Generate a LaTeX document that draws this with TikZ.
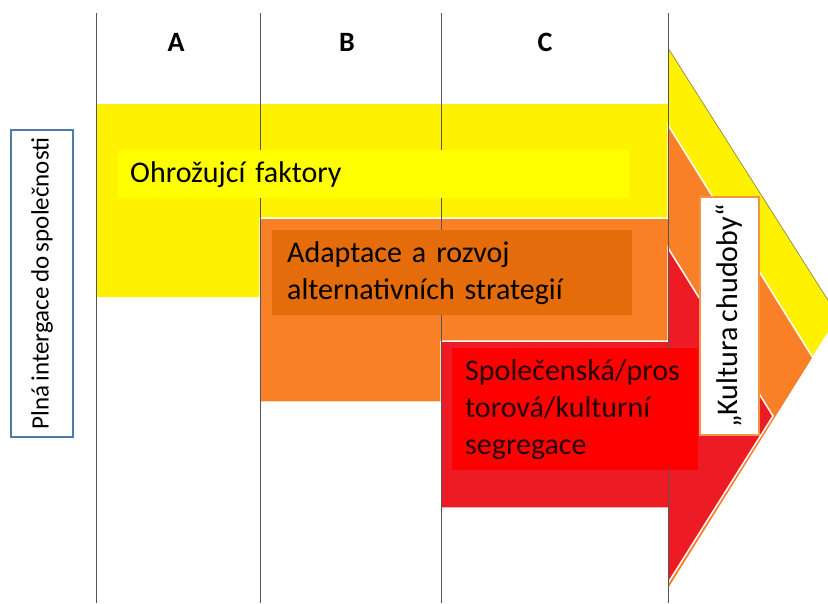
\documentclass[tikz,border=0pt]{standalone}
\usepackage{fontspec}
\setmainfont{Carlito}[WordSpace=0.8]
\definecolor{yellowarrow}{RGB}{255,242,0}
\definecolor{yellowbox}{RGB}{255,255,0}
\definecolor{orangearrow}{RGB}{250,128,40}
\definecolor{orangebox}{RGB}{228,108,10}
\definecolor{orangeframe}{RGB}{240,150,70}
\definecolor{redarrow}{RGB}{237,28,36}
\definecolor{redbox}{RGB}{255,0,0}
\definecolor{frameblue}{RGB}{80,122,170}
\definecolor{gridline}{RGB}{85,85,85}
\begin{document}
\begin{tikzpicture}[x=1pt,y=-1pt,
  band/.style={draw=white, line width=1.5pt, line join=miter},
  divider/.style={draw=gridline, line width=1pt},
  colhead/.style={font=\fontsize{28}{32}\selectfont\bfseries},
  textbox/.style={inner ysep=0pt, align=left, font=\fontsize{30}{37}\selectfont},
  sidebox/.style={rotate=90, inner sep=0pt, fill=white}]
\useasboundingbox (0,0) rectangle (828,603);

% arrows
\fill[yellowarrow] (96,104) -- (668,104) -- (668,48) -- (838,316) -- (668,584) -- (668,297) -- (96,297) -- cycle;
\draw[olive!55!gray, line width=0.7pt] (668,48) -- (838,316);
\filldraw[band, fill=orangearrow] (260,218) -- (668,218) -- (668,125) -- (813,358) -- (668,590) -- (668,402) -- (260,402) -- cycle;
\filldraw[band, fill=redarrow] (441,341) -- (668,341) -- (668,248) -- (773,416) -- (668,583) -- (668,508) -- (441,508) -- cycle;

% columns
\foreach \x in {96,260,441,668}
  \draw[divider] (\x,13) -- (\x,603);
\node[colhead] (colA) at (176,42) {A};
\node[colhead] (colB) at (347,42) {B};
\node[colhead] (colC) at (545,42) {C};

% labels
\node[textbox, fill=yellowbox, anchor=north west, inner xsep=12pt, text width=487pt, minimum height=48pt] (threat) at (118,150) {Ohrožujcí faktory};
\node[textbox, fill=orangebox, anchor=north west, inner xsep=15pt, text width=330pt, minimum height=85pt] (adapt) at (272,230) {Adaptace a rozvoj\\alternativních strategií};
\node[textbox, fill=redbox, anchor=north west, inner xsep=13pt, text width=220pt, minimum height=122pt, text=black!85!red] (segreg) at (452,348) {Společenská/pros\\torová/kulturní\\segregace};
\node[sidebox, draw=orangeframe, line width=2pt, minimum width=238pt, minimum height=59pt, font=\fontsize{30}{34}\selectfont] (culture) at (729.5,316) {„Kultura chudoby“};
\node[sidebox, draw=frameblue, line width=2.5pt, minimum width=307pt, minimum height=62pt, font=\fontsize{25}{30}\selectfont] (integr) at (42,283.5) {Plná intergace do společnosti};
\end{tikzpicture}
\end{document}
